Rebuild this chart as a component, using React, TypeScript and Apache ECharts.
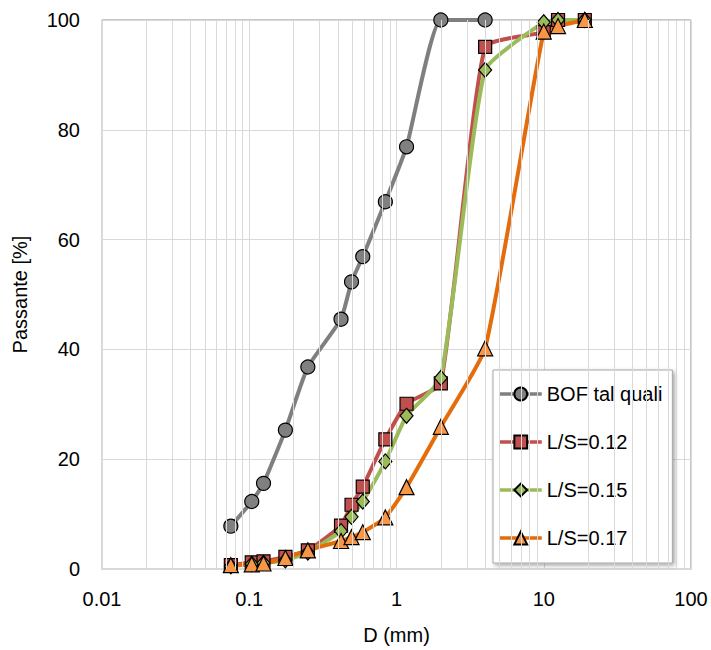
import React, { useEffect, useRef } from "react";
import * as echarts from "echarts";

const sizesBOF = [0.075, 0.104, 0.125, 0.176, 0.25, 0.42, 0.495, 0.59, 0.84, 1.17, 2, 4];
const sizesMix = [0.075, 0.104, 0.125, 0.176, 0.25, 0.42, 0.495, 0.59, 0.84, 1.17, 2, 4, 10, 12.5, 19];
const bof = [7.8, 12.3, 15.6, 25.3, 36.8, 45.5, 52.3, 56.9, 66.9, 76.9, 100, 100];
const ls012 = [0.7, 1.2, 1.4, 2.2, 3.4, 7.9, 11.7, 15.0, 23.6, 30.1, 33.8, 95.1, 97.8, 100, 100];
const ls015 = [0.5, 0.9, 1.1, 1.6, 3.0, 6.9, 9.5, 12.3, 19.6, 27.9, 34.8, 90.9, 99.6, 100, 100];
const ls017 = [0.7, 0.85, 1.0, 2.0, 3.4, 5.1, 5.8, 6.7, 9.4, 14.9, 25.9, 40.2, 97.9, 98.9, 100];
const seriesNames = ["BOF tal quali", "L/S=0.12", "L/S=0.15", "L/S=0.17"];
const xTickLabels = ["0.01", "0.1", "1", "10", "100"];
const minorGridValues = [
  0.02, 0.03, 0.04, 0.05, 0.06, 0.07, 0.08, 0.09,
  0.2, 0.3, 0.4, 0.5, 0.6, 0.7, 0.8, 0.9,
  2, 3, 4, 5, 6, 7, 8, 9,
  20, 30, 40, 50, 60, 70, 80, 90,
];

const FONT = "Liberation Sans";

function pairs(xs: number[], ys: number[]) {
  return ys.map((y, i) => [xs[i], y]);
}

export default function App() {
  const ref = useRef<HTMLDivElement>(null);
  useEffect(() => {
    const chart = echarts.init(ref.current!, null, { renderer: "svg" });
    const mk = (
      name: string,
      xs: number[],
      ys: number[],
      lineColor: string,
      fill: string,
      symbol: string,
      size: number | number[]
    ) => ({
      name,
      type: "line",
      data: pairs(xs, ys),
      smooth: 0.15,
      symbol,
      symbolSize: size,
      z: 3,
      lineStyle: { color: lineColor, width: 4 },
      emphasis: { disabled: true },
      itemStyle: { color: fill, borderColor: "#000", borderWidth: 1.2 },
    });
    chart.setOption({
      animation: false,
      backgroundColor: "#fff",
      grid: {
        left: 102,
        right: 20,
        top: 20,
        bottom: 78,
        show: true,
        borderColor: "#8c8c8c",
        borderWidth: 1,
        backgroundColor: "transparent",
      },
      xAxis: {
        type: "log",
        logBase: 10,
        min: 0.01,
        max: 100,
        name: "D (mm)",
        nameLocation: "middle",
        nameGap: 56,
        nameTextStyle: { fontFamily: FONT, fontSize: 20, color: "#000" },
        axisLine: { show: true, lineStyle: { color: "#d9d9d9", width: 2 } },
        axisTick: { show: false },
        axisLabel: {
          margin: 20,
          fontFamily: FONT,
          fontSize: 20,
          color: "#000",
          formatter: (_v: number, i: number) => xTickLabels[i] ?? String(_v),
        },
        splitLine: { show: true, lineStyle: { color: "#d9d9d9", width: 1 } },
      },
      yAxis: {
        type: "value",
        min: 0,
        max: 100,
        interval: 20,
        name: "Passante [%]",
        nameLocation: "middle",
        nameGap: 72,
        nameTextStyle: { fontFamily: FONT, fontSize: 20, color: "#000" },
        axisLine: { show: true, lineStyle: { color: "#d9d9d9", width: 2 } },
        axisTick: { show: false },
        axisLabel: { margin: 22, fontFamily: FONT, fontSize: 20, color: "#000" },
        splitLine: { show: true, lineStyle: { color: "#d9d9d9", width: 1 } },
      },
      legend: {
        data: seriesNames,
        orient: "vertical",
        left: 493,
        top: 370,
        padding: [14, 10, 15, 5],
        itemGap: 28,
        itemWidth: 42,
        itemHeight: 16,
        backgroundColor: "#fff",
        borderColor: "#a6a6a6",
        borderWidth: 1,
        shadowBlur: 4,
        shadowOffsetX: 2,
        shadowOffsetY: 2,
        shadowColor: "rgba(0,0,0,0.35)",
        lineStyle: { width: 3.5 },
        textStyle: { fontFamily: FONT, fontSize: 20, color: "#000", lineHeight: 20 },
      },
      series: [
        {
          name: "minor-grid",
          type: "line",
          data: [],
          silent: true,
          z: 0,
          markLine: {
            silent: true,
            symbol: ["none", "none"],
            label: { show: false },
            lineStyle: { color: "#d9d9d9", width: 1, type: "solid" },
            data: minorGridValues.map((v) => ({ xAxis: v })),
          },
        },
        mk(seriesNames[0], sizesBOF, bof, "#7f7f7f", "#808080", "circle", 14),
        mk(seriesNames[1], sizesMix, ls012, "#c0504d", "#c0504d", "rect", 13),
        mk(seriesNames[2], sizesMix, ls015, "#9bbb59", "#9bbb59", "diamond", [13, 15]),
        mk(seriesNames[3], sizesMix, ls017, "#e46c0a", "#f79646", "triangle", 15),
      ],
    });
    return () => chart.dispose();
  }, []);
  return (
    <div
      ref={ref}
      style={{ position: "fixed", left: 0, top: 0, width: 711, height: 650, background: "#fff" }}
    />
  );
}
